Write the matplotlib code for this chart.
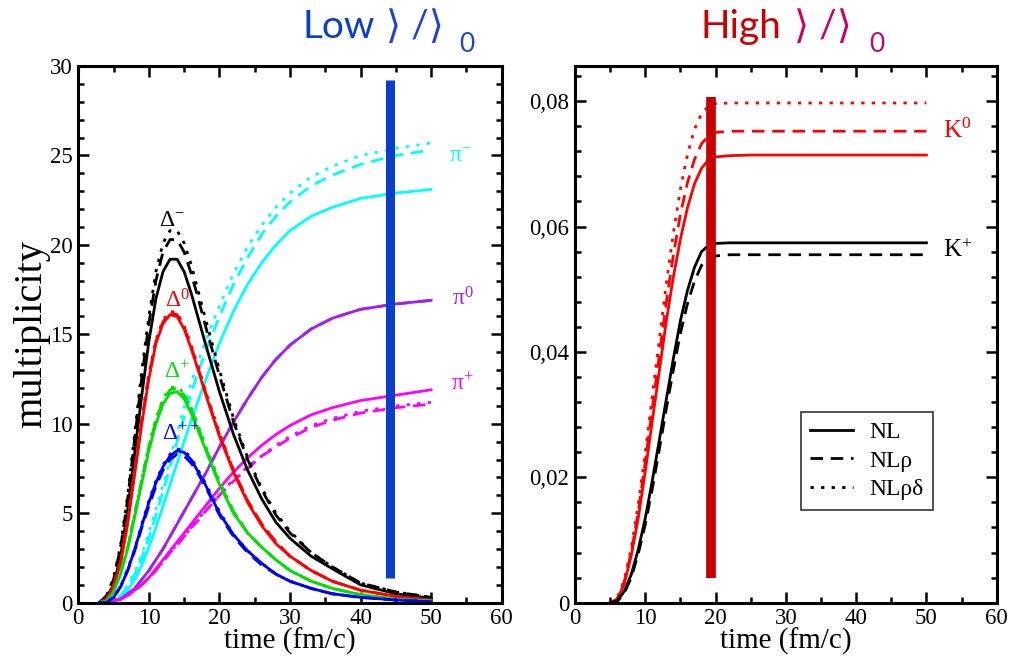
"""Delta / pion / kaon multiplicities vs time for low and high density."""

import matplotlib
matplotlib.use("Agg")
import matplotlib.pyplot as plt
from matplotlib.lines import Line2D
from matplotlib.ticker import MultipleLocator, FuncFormatter

plt.rcParams["mathtext.fontset"] = "custom"
plt.rcParams["mathtext.rm"] = "Liberation Serif"
plt.rcParams["mathtext.it"] = "Liberation Serif"
plt.rcParams["font.family"] = ["Liberation Serif", "DejaVu Serif"]

# ---- left panel: time grid and multiplicities (NL, NLrho, NLrhodelta) ----
t_left = [3, 4, 5, 6, 7, 8, 9, 10, 11, 12, 13, 14, 15, 16, 17, 18,
          20, 22, 24, 26, 28, 30, 33, 36, 40, 45, 50]

dm_nl = [0, 0.3, 1.0, 2.6, 5.2, 8.4, 11.6, 14.6, 17.0, 18.5, 19.2, 19.2, 18.5, 17.3, 15.9, 14.5,
         11.8, 9.4, 7.4, 5.8, 4.5, 3.6, 2.6, 1.9, 1.0, 0.5, 0.25]
dm_nlr = [0, 0.4, 1.3, 3.1, 5.8, 9.2, 12.6, 15.6, 18.0, 19.6, 20.3, 20.3, 19.6, 18.4, 17.0, 15.5,
          12.7, 10.1, 8.0, 6.3, 4.9, 3.9, 2.8, 2.0, 1.1, 0.6, 0.3]
dm_nlrd = [0, 0.4, 1.4, 3.2, 6.0, 9.5, 13.0, 16.0, 18.5, 20.1, 20.8, 20.8, 20.1, 18.9, 17.4, 15.9,
           13.0, 10.3, 8.1, 6.4, 5.0, 4.0, 2.8, 2.0, 1.1, 0.6, 0.3]

d0_nl = [0, 0.2, 0.9, 2.2, 4.4, 7.2, 10.0, 12.5, 14.5, 15.6, 16.1, 16.0, 15.3, 14.2, 13.0, 11.7,
         9.3, 7.3, 5.6, 4.3, 3.3, 2.6, 1.8, 1.2, 0.7, 0.35, 0.15]
d0_nlr = [0, 0.2, 1.0, 2.3, 4.6, 7.4, 10.2, 12.7, 14.6, 15.7, 16.2, 16.1, 15.4, 14.3, 13.1, 11.8,
          9.4, 7.4, 5.7, 4.4, 3.4, 2.6, 1.8, 1.2, 0.7, 0.35, 0.15]
d0_nlrd = [0, 0.2, 1.0, 2.4, 4.7, 7.5, 10.3, 12.8, 14.7, 15.8, 16.3, 16.2, 15.5, 14.4, 13.2, 11.9,
           9.5, 7.4, 5.7, 4.4, 3.4, 2.6, 1.8, 1.2, 0.7, 0.35, 0.15]

dp_nl = [0, 0.1, 0.6, 1.6, 3.0, 4.8, 6.7, 8.5, 10.0, 11.1, 11.7, 11.8, 11.4, 10.6, 9.6, 8.6,
         6.6, 5.0, 3.9, 3.1, 2.4, 1.8, 1.2, 0.8, 0.45, 0.2, 0.1]
dp_nlr = [0, 0.1, 0.6, 1.7, 3.1, 5.0, 6.9, 8.7, 10.2, 11.3, 11.9, 12.0, 11.6, 10.8, 9.8, 8.7,
          6.7, 5.1, 3.9, 3.1, 2.4, 1.8, 1.2, 0.8, 0.45, 0.2, 0.1]
dp_nlrd = [0, 0.1, 0.6, 1.7, 3.1, 5.0, 6.9, 8.8, 10.3, 11.4, 12.0, 12.1, 11.7, 10.9, 9.9, 8.8,
           6.8, 5.1, 3.9, 3.1, 2.4, 1.8, 1.2, 0.8, 0.45, 0.2, 0.1]

dpp_nl = [0, 0, 0.3, 0.9, 1.8, 3.0, 4.3, 5.6, 6.7, 7.6, 8.2, 8.5, 8.4, 8.0, 7.3, 6.6,
          5.0, 3.8, 2.9, 2.2, 1.6, 1.2, 0.8, 0.5, 0.3, 0.15, 0.05]
dpp_nlr = [0, 0, 0.3, 0.9, 1.8, 2.9, 4.2, 5.4, 6.5, 7.4, 8.0, 8.3, 8.2, 7.8, 7.2, 6.5,
           4.9, 3.7, 2.8, 2.1, 1.6, 1.2, 0.8, 0.5, 0.3, 0.15, 0.05]
dpp_nlrd = [0, 0, 0.3, 0.9, 1.9, 3.0, 4.4, 5.7, 6.8, 7.7, 8.3, 8.6, 8.5, 8.1, 7.4, 6.7,
            5.1, 3.8, 2.9, 2.2, 1.6, 1.2, 0.8, 0.5, 0.3, 0.15, 0.05]

pim_nl = [0, 0, 0.1, 0.3, 0.7, 1.3, 2.1, 3.1, 4.2, 5.4, 6.6, 7.8, 9.0, 10.2, 11.3, 12.4,
          14.5, 16.3, 17.8, 19.0, 20.0, 20.8, 21.6, 22.1, 22.6, 22.9, 23.1]
pim_nlr = [0, 0, 0.1, 0.4, 0.9, 1.6, 2.5, 3.6, 4.9, 6.2, 7.6, 9.0, 10.4, 11.7, 12.9, 14.0,
           16.0, 17.8, 19.3, 20.6, 21.6, 22.4, 23.3, 23.9, 24.5, 25.0, 25.3]
pim_nlrd = [0, 0, 0.1, 0.4, 1.0, 1.7, 2.7, 3.9, 5.2, 6.6, 8.0, 9.5, 10.9, 12.3, 13.5, 14.6,
            16.6, 18.4, 19.9, 21.1, 22.1, 22.9, 23.8, 24.4, 25.0, 25.4, 25.7]

pi0_nl = [0, 0, 0.1, 0.2, 0.5, 0.8, 1.3, 1.8, 2.4, 3.0, 3.7, 4.4, 5.1, 5.8, 6.5, 7.2,
          8.7, 10.1, 11.4, 12.6, 13.6, 14.4, 15.3, 15.9, 16.4, 16.7, 16.9]
pi0_nlr = [0, 0, 0.1, 0.2, 0.5, 0.8, 1.3, 1.8, 2.4, 3.0, 3.7, 4.4, 5.1, 5.8, 6.5, 7.2,
           8.7, 10.1, 11.4, 12.6, 13.6, 14.4, 15.3, 15.9, 16.4, 16.7, 16.9]

pip_nl = [0, 0, 0.1, 0.2, 0.4, 0.7, 1.0, 1.4, 1.9, 2.4, 2.9, 3.4, 3.9, 4.4, 4.9, 5.4,
          6.4, 7.3, 8.1, 8.8, 9.4, 9.9, 10.5, 10.9, 11.3, 11.6, 11.9]
pip_nlr = [0, 0, 0.1, 0.2, 0.4, 0.7, 1.0, 1.4, 1.8, 2.3, 2.8, 3.2, 3.7, 4.2, 4.6, 5.1,
           6.0, 6.8, 7.5, 8.2, 8.7, 9.2, 9.8, 10.2, 10.6, 10.9, 11.1]
pip_nlrd = [0, 0, 0.1, 0.2, 0.4, 0.7, 1.0, 1.4, 1.8, 2.3, 2.8, 3.3, 3.7, 4.2, 4.7, 5.1,
            6.0, 6.9, 7.6, 8.2, 8.8, 9.3, 9.9, 10.3, 10.7, 11.0, 11.2]

# ---- right panel: kaon multiplicities ----
t_right = [5, 6, 7, 8, 9, 10, 11, 12, 13, 14, 15, 16, 17, 18, 19, 20, 22, 25, 30, 40, 50]

k0_nl = [0, 0.0005, 0.003, 0.0075, 0.0135, 0.021, 0.029, 0.037, 0.045, 0.052, 0.058, 0.063,
         0.0668, 0.0693, 0.0706, 0.0711, 0.0713, 0.0714, 0.0714, 0.0714, 0.0714]
k0_nlr = [0, 0.0006, 0.0033, 0.008, 0.0145, 0.0225, 0.031, 0.0395, 0.048, 0.0555, 0.062, 0.067,
          0.0707, 0.0732, 0.0745, 0.0750, 0.0752, 0.0752, 0.0752, 0.0752, 0.0752]
k0_nlrd = [0, 0.0007, 0.0036, 0.0087, 0.0157, 0.024, 0.033, 0.042, 0.051, 0.059, 0.066, 0.0715,
           0.0755, 0.0780, 0.0792, 0.0796, 0.0797, 0.0797, 0.0797, 0.0797, 0.0797]
kp_nl = [0, 0.0003, 0.0018, 0.0045, 0.0085, 0.0135, 0.0195, 0.026, 0.0325, 0.039, 0.045, 0.0498,
         0.0535, 0.056, 0.0570, 0.0573, 0.0574, 0.0574, 0.0574, 0.0574, 0.0574]
kp_nlr = [0, 0.0002, 0.0015, 0.0040, 0.0078, 0.0125, 0.0182, 0.0245, 0.031, 0.0372, 0.043, 0.0477,
          0.0513, 0.0538, 0.0549, 0.0553, 0.0555, 0.0555, 0.0555, 0.0555, 0.0555]

# vertical markers
bar_left = (44.2, 1.4, 29.2)
bar_right = (19.4, 0.0039, 0.0806)

DASH = (0, (4.5, 2.8))
DOT = (0, (1.2, 2.6))

fig = plt.figure(figsize=(10.09, 6.64), dpi=100)
ax1 = fig.add_axes([0.0776, 0.0923, 0.4196, 0.8083])
ax2 = fig.add_axes([0.5699, 0.0923, 0.4179, 0.8083])


def style_axis(ax):
    for spine in ax.spines.values():
        spine.set_linewidth(2.2)
    ax.tick_params(which="both", direction="in", top=True, right=True,
                   width=1.8, labelsize=16.5, pad=4)
    ax.tick_params(which="major", length=8)
    ax.tick_params(which="minor", length=4.5)
    ax.set_xlim(0, 60)
    ax.xaxis.set_major_locator(MultipleLocator(10))
    ax.xaxis.set_minor_locator(MultipleLocator(5))
    ax.set_xlabel("time (fm/c)", fontsize=21, labelpad=-1)


curves_left = [
    ("cyan", pim_nl, pim_nlr, pim_nlrd),
    ("#a020f0", pi0_nl, pi0_nlr, None),
    ("magenta", pip_nl, pip_nlr, pip_nlrd),
    ("black", dm_nl, dm_nlr, dm_nlrd),
    ("red", d0_nl, d0_nlr, d0_nlrd),
    ("#00e000", dp_nl, dp_nlr, dp_nlrd),
    ("blue", dpp_nl, dpp_nlr, dpp_nlrd),
]
for color, solid, dashed, dotted in curves_left:
    ax1.plot(t_left, solid, color=color, lw=2.0)
    ax1.plot(t_left, dashed, color=color, lw=2.0, linestyle=DASH)
    if dotted is not None:
        ax1.plot(t_left, dotted, color=color, lw=2.0, linestyle=DOT)

style_axis(ax1)
ax1.set_ylim(0, 30)
ax1.yaxis.set_major_locator(MultipleLocator(5))
ax1.yaxis.set_minor_locator(MultipleLocator(1))
ax1.set_ylabel("multiplicity", fontsize=29, labelpad=0)
ax1.vlines(bar_left[0], bar_left[1], bar_left[2], color="#0a3fcc", lw=6.5)

labels_left = [
    (13.3, 20.8, r"$\Delta^{-}$", "black"),
    (14.0, 16.2, r"$\Delta^{0}$", "red"),
    (14.0, 12.3, r"$\Delta^{+}$", "#00e000"),
    (14.5, 8.8, r"$\Delta^{++}$", "blue"),
    (52.5, 25.0, r"$\pi^{-}$", "cyan"),
    (53.0, 17.0, r"$\pi^{0}$", "#a020f0"),
    (52.8, 12.2, r"$\pi^{+}$", "magenta"),
]
for x, y, text, color in labels_left:
    ax1.text(x, y, text, color=color, fontsize=17, ha="left" if x > 40 else "center",
             va="bottom" if x < 40 else "center")

# right panel
ax2.plot(t_right, k0_nl, color="red", lw=2.0)
ax2.plot(t_right, k0_nlr, color="red", lw=2.0, linestyle=DASH)
ax2.plot(t_right, k0_nlrd, color="red", lw=2.0, linestyle=DOT)
ax2.plot(t_right, kp_nl, color="black", lw=2.0)
ax2.plot(t_right, kp_nlr, color="black", lw=2.0, linestyle=DASH)

style_axis(ax2)
ax2.set_ylim(0, 0.0856)
ax2.yaxis.set_major_locator(MultipleLocator(0.02))
ax2.yaxis.set_minor_locator(MultipleLocator(0.004))
ax2.yaxis.set_major_formatter(
    FuncFormatter(lambda v, pos: "0" if abs(v) < 1e-9 else f"{v:.2f}".replace(".", ",")))
ax2.vlines(bar_right[0], bar_right[1], bar_right[2], color="#c80000", lw=7)

ax2.text(52.3, 0.0752, r"K$^{0}$", color="red", fontsize=18, va="center")
ax2.text(52.3, 0.0562, r"K$^{+}$", color="black", fontsize=18, va="center")

handles = [
    Line2D([], [], color="black", lw=2.0),
    Line2D([], [], color="black", lw=2.0, linestyle=DASH),
    Line2D([], [], color="black", lw=2.0, linestyle=DOT),
]
leg = ax2.legend(handles, ["NL", "NLρ", "NLρδ"], loc="upper left",
                 bbox_to_anchor=(0.536, 0.355), fontsize=17, frameon=True,
                 fancybox=False, handlelength=1.8, borderpad=0.4,
                 labelspacing=0.3, handletextpad=0.7, borderaxespad=0)
leg.get_frame().set_edgecolor("black")
leg.get_frame().set_linewidth(1.2)

# titles
title_font = ["Lato", "DejaVu Sans"]
fig.text(302 / 1009, 1 - 38 / 664, "Low", color="#0a3fcc", fontsize=28,
         family=title_font, va="baseline")
fig.text(386 / 1009, 1 - 38 / 664, "⟩ /⟩", color="#1f45d0", fontsize=28,
         family=title_font, va="baseline")
fig.text(459 / 1009, 1 - 52 / 664, "0", color="#1f45d0", fontsize=19,
         family=title_font, va="baseline")
fig.text(700 / 1009, 1 - 38 / 664, "High", color="#cc0000", fontsize=28,
         family=title_font, va="baseline")
fig.text(794 / 1009, 1 - 38 / 664, "⟩ /⟩", color="#cc0066", fontsize=28,
         family=title_font, va="baseline")
fig.text(869 / 1009, 1 - 52 / 664, "0", color="#cc0066", fontsize=19,
         family=title_font, va="baseline")

fig.savefig("out.png", dpi=100)
